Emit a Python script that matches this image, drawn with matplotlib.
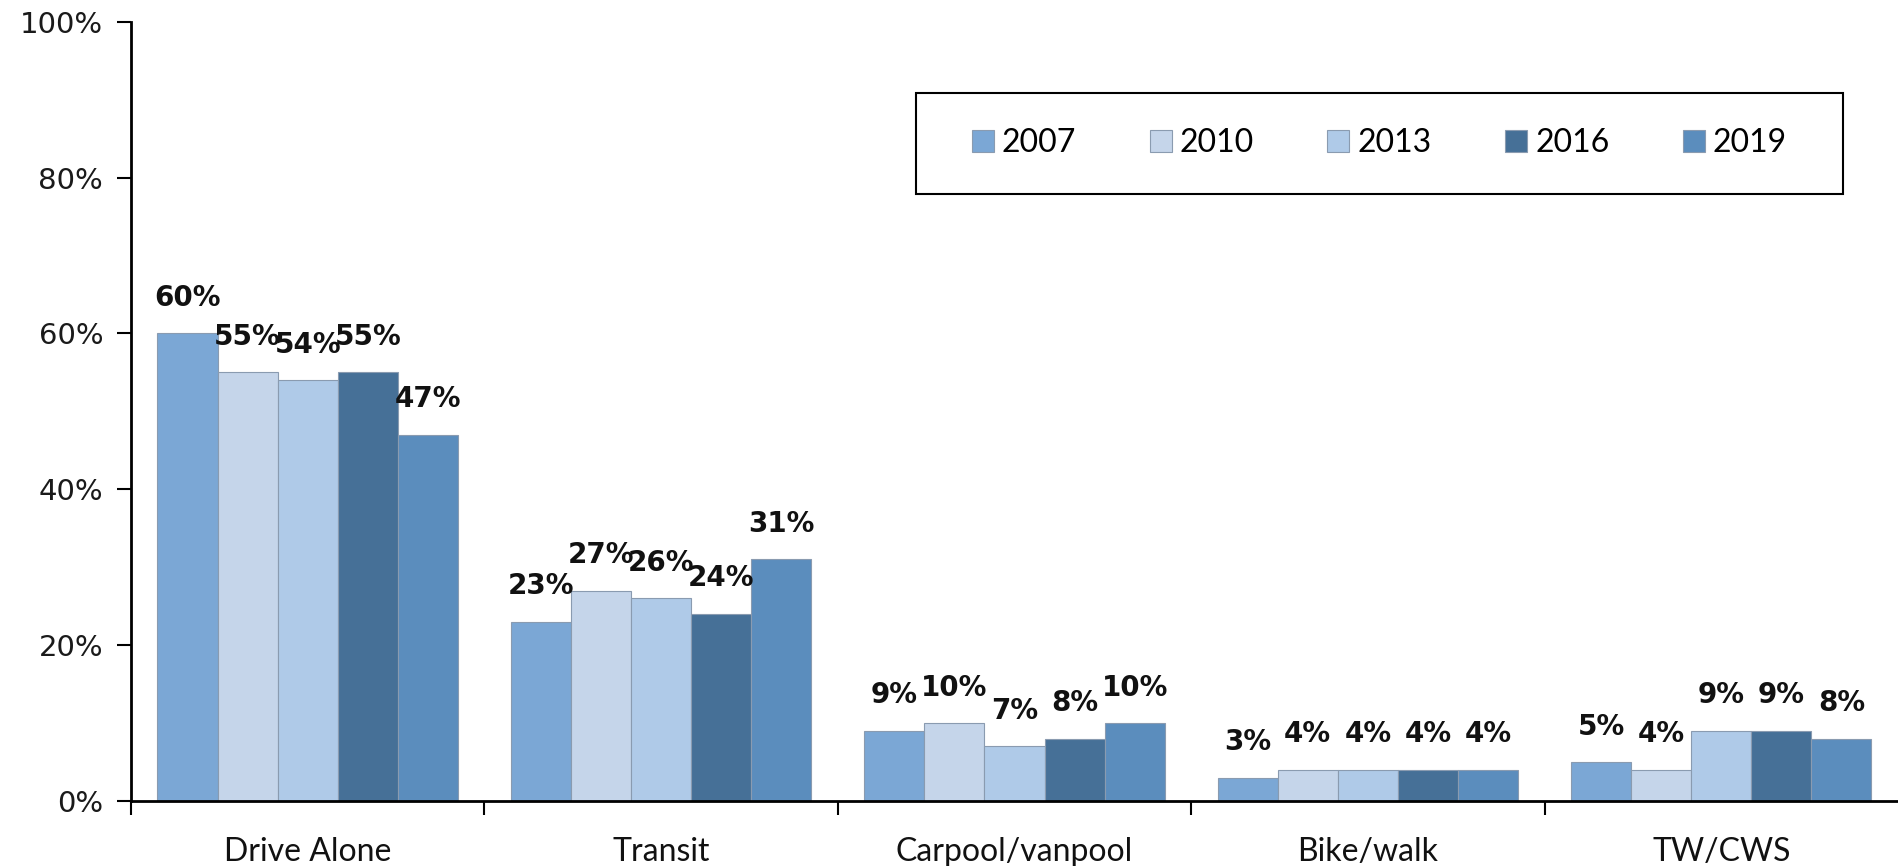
import matplotlib
matplotlib.use('Agg')
import matplotlib.pyplot as plt
from matplotlib.patches import Rectangle
import numpy as np

categories = ['Drive Alone', 'Transit', 'Carpool/vanpool', 'Bike/walk', 'TW/CWS']
years = ['2007', '2010', '2013', '2016', '2019']
share_2007 = [60, 23, 9, 3, 5]
share_2010 = [55, 27, 10, 4, 4]
share_2013 = [54, 26, 7, 4, 9]
share_2016 = [55, 24, 8, 4, 9]
share_2019 = [47, 31, 10, 4, 8]
series = [share_2007, share_2010, share_2013, share_2016, share_2019]
colors = ['#7BA7D5', '#C5D5EA', '#AFCAE8', '#467097', '#5B8DBD']

fig = plt.figure(figsize=(18.98, 8.66), dpi=100, facecolor='white')
ax = fig.add_axes([0.069, 0.075, 0.931, 0.9])

x = np.arange(len(categories))
bw = 0.17
for i, vals in enumerate(series):
    pos = x + (i - 2) * bw
    ax.bar(pos, vals, width=bw, color=colors[i], edgecolor='#8a9bb0', linewidth=0.8, label=years[i])
    for p, v in zip(pos, vals):
        ax.annotate('%d%%' % v, (p, v), xytext=(0, 15.5), textcoords='offset points',
                    ha='center', va='bottom', fontsize=20, fontweight='bold', color='#111111')

ax.set_xlim(-0.5, 4.5)
ax.set_ylim(0, 100)
ax.set_yticks(range(0, 101, 20))
ax.set_yticklabels(['%d%%' % t for t in range(0, 101, 20)], fontsize=21, color='#1a1a1a')
ax.set_xticks(x)
ax.set_xticklabels(categories, fontsize=23, family='Lato', color='#111111')
ax.tick_params(axis='x', which='major', length=0, pad=26)
ax.set_xticks(np.arange(-0.5, 4.5, 1), minor=True)
ax.tick_params(axis='x', which='minor', length=10, width=1.5, direction='out')
ax.tick_params(axis='y', length=10, width=1.5, direction='out', pad=10)

for s in ['top', 'right']:
    ax.spines[s].set_visible(False)
for s in ['left', 'bottom']:
    ax.spines[s].set_linewidth(2)

# legend box drawn separately, entries centred inside it
box = Rectangle((0.444, 0.779), 0.525, 0.13, transform=ax.transAxes, fill=False,
                edgecolor='black', linewidth=1.5, zorder=5)
ax.add_patch(box)
leg = ax.legend(ncol=5, loc='center', bbox_to_anchor=(0.444 + 0.525 / 2, 0.779 + 0.065),
                prop={'family': 'Lato', 'size': 23}, frameon=False,
                handlelength=0.69, handleheight=0.69, handletextpad=0.25,
                columnspacing=2.3, borderaxespad=0)

plt.savefig('out.png', dpi=100, facecolor='white')
